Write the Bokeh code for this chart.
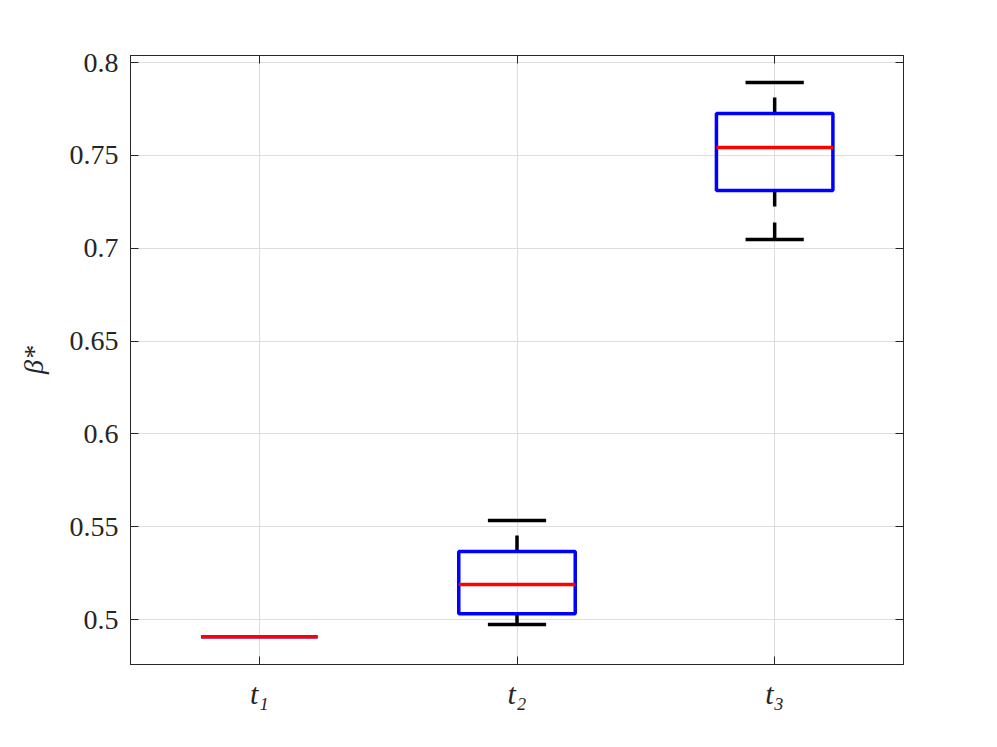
from bokeh.plotting import figure
from bokeh.models import FixedTicker, LinearAxis, Range1d
from bokeh.embed import file_html
from bokeh.resources import INLINE

categories = ["t\u2081", "t\u2082", "t\u2083"]
positions = [1, 2, 3]
lower_whisker = [0.4908, 0.4973, 0.7047]
q1 = [0.4908, 0.5032, 0.7311]
median = [0.4908, 0.5189, 0.7542]
q3 = [0.4908, 0.5366, 0.7725]
upper_whisker = [0.4908, 0.5533, 0.7892]
y_ticks = [0.5, 0.55, 0.6, 0.65, 0.7, 0.75, 0.8]
y_tick_labels = ["0.5", "0.55", "0.6", "0.65", "0.7", "0.75", "0.8"]

AX = "#262626"
FONT = "Liberation Serif"

p = figure(width=981, height=731, output_backend="svg", toolbar_location=None,
           x_range=Range1d(0.5, 3.5), y_range=Range1d(0.4758, 0.8038),
           min_border_left=130, min_border_right=78, min_border_top=55, min_border_bottom=67)
p.background_fill_color = "white"
p.border_fill_color = "white"
p.outline_line_color = AX
p.outline_line_width = 1

half_box = 0.226
half_cap = 0.113
lo_box = [x - half_box for x in positions]
hi_box = [x + half_box for x in positions]
lo_cap = [x - half_cap for x in positions]
hi_cap = [x + half_cap for x in positions]

LW = 3.5
# whiskers (dashed)
p.segment(x0=positions, y0=q3, x1=positions, y1=upper_whisker, line_color="black",
          line_width=LW, line_dash="16 16")
p.segment(x0=positions, y0=q1, x1=positions, y1=lower_whisker, line_color="black",
          line_width=LW, line_dash="16 16")
# caps
p.segment(x0=lo_cap[1:], y0=upper_whisker[1:], x1=hi_cap[1:], y1=upper_whisker[1:],
          line_color="black", line_width=LW)
p.segment(x0=lo_cap[1:], y0=lower_whisker[1:], x1=hi_cap[1:], y1=lower_whisker[1:],
          line_color="black", line_width=LW)
# boxes
p.quad(left=lo_box, right=hi_box, bottom=q1, top=q3, fill_color=None,
       line_color="#0000ff", line_width=LW)
# medians
p.segment(x0=lo_box, y0=median, x1=hi_box, y1=median, line_color="#ff0000", line_width=LW)

# axes styling
p.xaxis.ticker = FixedTicker(ticks=positions)
p.xaxis.major_label_overrides = {pos: lab for pos, lab in zip(positions, categories)}
p.yaxis.ticker = FixedTicker(ticks=y_ticks)
p.yaxis.major_label_overrides = {t: l for t, l in zip(y_ticks, y_tick_labels)}
p.yaxis.axis_label = "\u03b2*"

for ax in [p.xaxis[0], p.yaxis[0]]:
    ax.axis_line_color = AX
    ax.major_tick_line_color = AX
    ax.major_tick_in = 8
    ax.major_tick_out = 0
    ax.minor_tick_line_color = None
    ax.major_label_text_font = FONT
    ax.major_label_text_color = AX
    ax.major_label_text_font_size = "28px"
    ax.axis_label_text_font = FONT
    ax.axis_label_text_font_style = "italic"
    ax.axis_label_text_color = AX
    ax.axis_label_text_font_size = "28px"

p.xaxis.major_label_text_font_style = "italic"
p.xaxis.major_label_text_font_size = "30px"
p.xaxis.major_label_standoff = 12
p.yaxis.major_label_standoff = 12
p.yaxis.axis_label_standoff = 18

right = LinearAxis(ticker=FixedTicker(ticks=y_ticks),
                   major_label_overrides={t: "" for t in y_ticks},
                   major_label_text_color=None,
                   axis_line_color=AX, major_tick_line_color=AX, major_tick_in=8,
                   major_tick_out=0, minor_tick_line_color=None)
top = LinearAxis(ticker=FixedTicker(ticks=positions),
                 major_label_overrides={t: "" for t in positions},
                 major_label_text_color=None,
                 axis_line_color=AX, major_tick_line_color=AX, major_tick_in=8,
                 major_tick_out=0, minor_tick_line_color=None)
p.add_layout(right, "right")
p.add_layout(top, "above")

p.grid.grid_line_color = "#dedede"
p.grid.grid_line_width = 1
p.xgrid.ticker = FixedTicker(ticks=positions)
p.ygrid.ticker = FixedTicker(ticks=y_ticks)

open("out.html", "w").write(file_html(p, INLINE))
